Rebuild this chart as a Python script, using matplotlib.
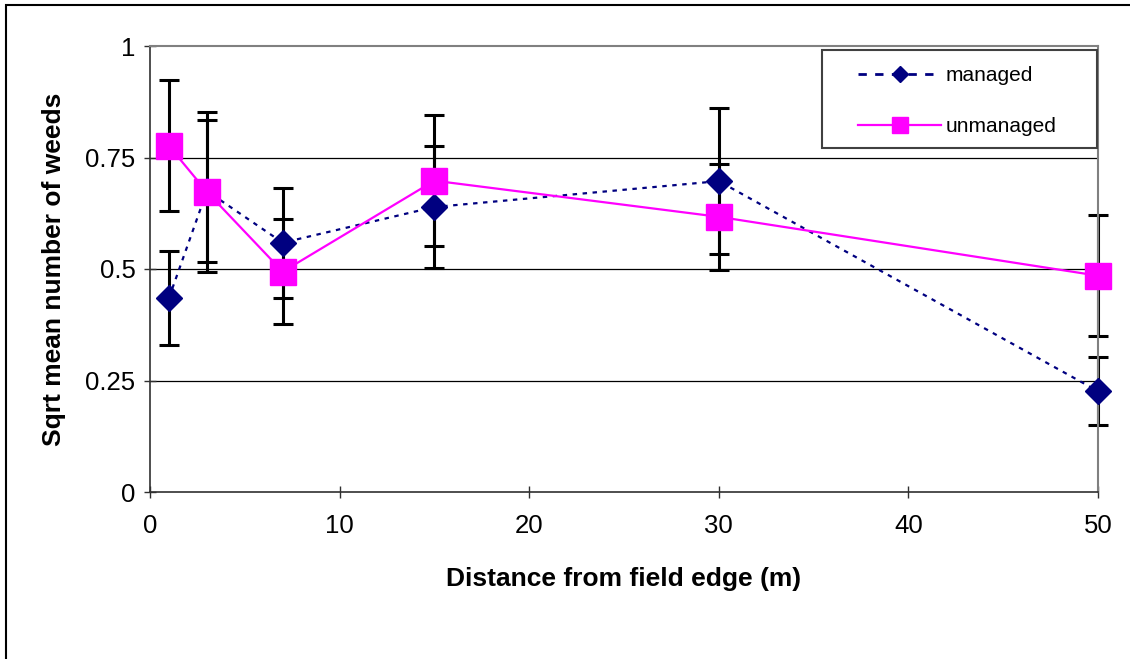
import matplotlib.pyplot as plt
from matplotlib.patches import Rectangle
from matplotlib.lines import Line2D

plt.rcParams['font.family'] = ['Liberation Sans', 'DejaVu Sans']

# distances from field edge (m)
distance = [1, 3, 7, 15, 30, 50]

# sqrt mean number of weeds, with error bar half-widths
managed = [0.435, 0.675, 0.559, 0.639, 0.697, 0.226]
managed_err = [0.106, 0.160, 0.123, 0.137, 0.163, 0.076]
unmanaged = [0.776, 0.673, 0.494, 0.698, 0.617, 0.485]
unmanaged_err = [0.147, 0.180, 0.117, 0.147, 0.119, 0.135]

y_ticks = [0, 0.25, 0.5, 0.75, 1]
y_labels = ['0', '0.25', '0.5', '0.75', '1']

W, H = 1130, 659
fig = plt.figure(figsize=(W / 100, H / 100), dpi=100)
ax = fig.add_axes([150 / W, 1 - 492 / H, 948 / W, 446 / H])

# error bars first so the markers sit on top
for vals, errs in [(managed, managed_err), (unmanaged, unmanaged_err)]:
    eb = ax.errorbar(distance, vals, yerr=errs, fmt='none', ecolor='black',
                     elinewidth=2.2, capsize=7.5, capthick=2.2, zorder=2)
    for art in eb.lines[1] + eb.lines[2]:
        art.set_clip_on(False)

ax.plot(distance, managed, color='#000080', linestyle=(0, (2, 2.5)), linewidth=1.6,
        marker='D', markersize=13.5, markerfacecolor='#000080',
        markeredgecolor='#000080', zorder=3, clip_on=False)
ax.plot(distance, unmanaged, color='#FF00FF', linestyle='-', linewidth=1.6,
        marker='s', markersize=18.5, markerfacecolor='#FF00FF',
        markeredgecolor='#FF00FF', zorder=4, clip_on=False)

ax.set_xlim(0, 50)
ax.set_ylim(0, 1)
ax.set_yticks(y_ticks)
ax.set_yticklabels(y_labels)
ax.set_xticks(range(0, 51, 10))

for y in y_ticks[1:-1]:
    ax.axhline(y, color='black', linewidth=0.9, zorder=1)

for side in ['top', 'right']:
    ax.spines[side].set_color('#808080')
    ax.spines[side].set_linewidth(1.5)
for side in ['left', 'bottom']:
    ax.spines[side].set_color('#303030')
    ax.spines[side].set_linewidth(1.2)

ax.tick_params(axis='both', direction='inout', length=9, width=1, labelsize=18.5,
               color='#303030')
ax.tick_params(axis='y', pad=6)
ax.tick_params(axis='x', pad=11)

ax.set_xlabel('Distance from field edge (m)', fontsize=19, fontweight='bold',
              labelpad=21)
ax.set_ylabel('Sqrt mean number of weeds', fontsize=19, fontweight='bold',
              labelpad=14)

# legend entries (the legend shows longer dashes than the chart line)
handles = [
    Line2D([], [], color='#000080', linestyle=(0, (3, 3)), linewidth=2,
           marker='D', markersize=8, markerfacecolor='#000080',
           markeredgecolor='#000080'),
    Line2D([], [], color='#FF00FF', linestyle='-', linewidth=1.6,
           marker='s', markersize=11, markerfacecolor='#FF00FF',
           markeredgecolor='#FF00FF'),
]

# legend box drawn separately so its padding matches the original
fig.patches.append(Rectangle((822 / W, 1 - 148 / H), 275 / W, 98 / H,
                             transform=fig.transFigure, facecolor='white',
                             edgecolor='#404040', linewidth=1.5, zorder=5))
leg = fig.legend(handles, ['managed', 'unmanaged'], loc='upper left',
                 bbox_to_anchor=(858 / W, 1 - 66 / H),
                 fontsize=15, frameon=False, borderpad=0, borderaxespad=0,
                 labelspacing=1.55, handlelength=4.0, handletextpad=0.2)
leg.set_zorder(6)

# outer border of the chart (right and bottom edges fall outside the image)
fig.patches.append(Rectangle((6 / W, -0.1), 1.2, 1.1 - 5 / H,
                             transform=fig.transFigure, fill=False,
                             edgecolor='black', linewidth=1.5))

fig.savefig('out.png', dpi=100)
